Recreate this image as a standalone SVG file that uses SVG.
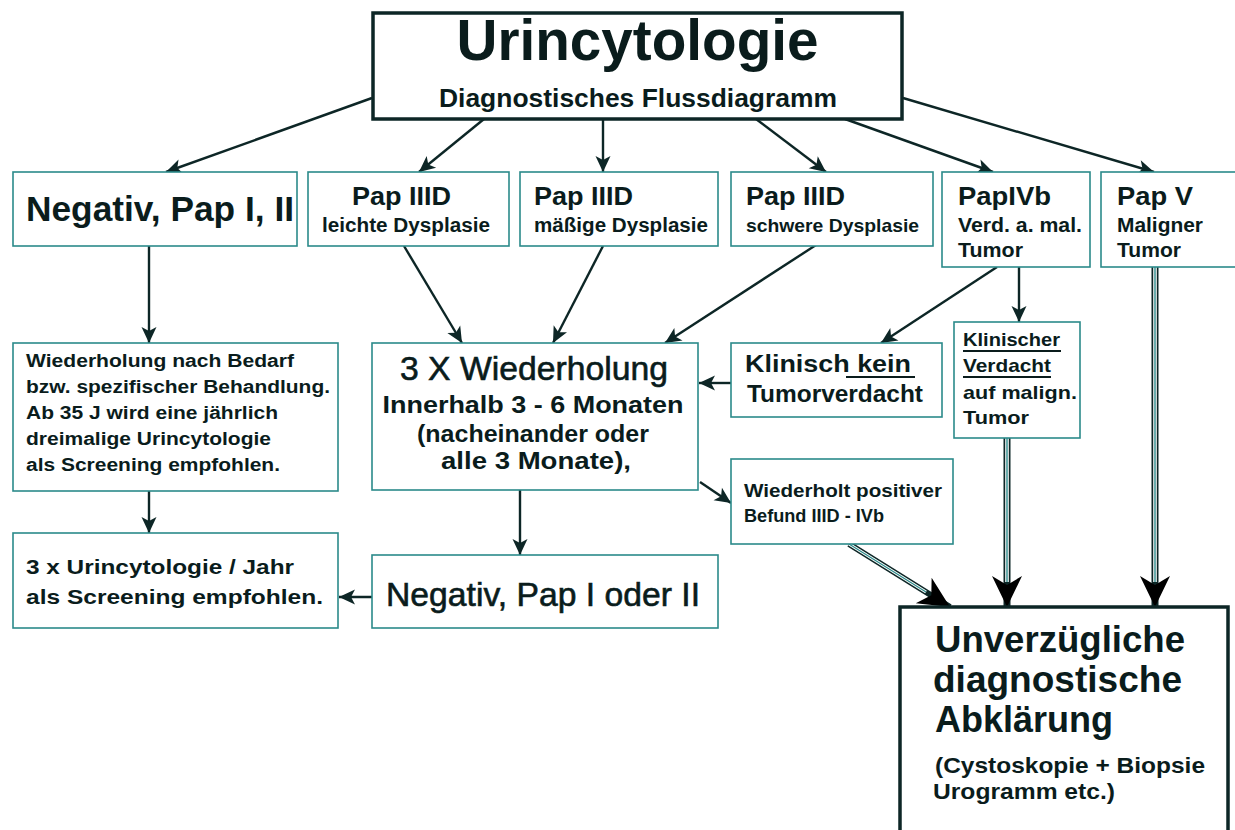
<svg xmlns="http://www.w3.org/2000/svg" width="1235" height="830" viewBox="0 0 1235 830">
<style>
.bx{fill:#fff;stroke:#2b8a8a;stroke-width:1.6}
.bxt{fill:#fff;stroke:#0d2626;stroke-width:3.5}
text{font-family:"Liberation Sans",Arial,sans-serif;fill:#0a1c1c;font-weight:bold}
.rg{font-weight:normal;stroke:#0a1c1c;stroke-width:0.6}
.ln{fill:none;stroke:#0d2626;stroke-width:2.4}
.dbl{fill:none;stroke:#0d2626;stroke-width:7}
.dblw{fill:none;stroke:#fff;stroke-width:3.6}
.dblt{fill:none;stroke:#2b8a8a;stroke-width:1.4}
.ul{stroke:#0a1c1c;stroke-width:2}
</style>
<defs>
<marker id="a" markerUnits="userSpaceOnUse" markerWidth="17" markerHeight="15" refX="16" refY="7.5" orient="auto" overflow="visible">
<path d="M0,0 L16,7.5 L0,15 L4,7.5 z" fill="#0d2626"/>
</marker>
<marker id="A" markerUnits="userSpaceOnUse" markerWidth="32" markerHeight="30" refX="31" refY="15" orient="auto" overflow="visible">
<path d="M0,0 L31,15 L0,30 L9,15 z" fill="#000"/>
</marker>
</defs>
<g id="connectors">
<path class="ln" marker-end="url(#a)" d="M372,98 L166,172"/>
<path class="ln" marker-end="url(#a)" d="M484,119 L419,172"/>
<path class="ln" marker-end="url(#a)" d="M603,119 L603,172"/>
<path class="ln" marker-end="url(#a)" d="M756,119 L826,172"/>
<path class="ln" marker-end="url(#a)" d="M845,119 L993,172"/>
<path class="ln" marker-end="url(#a)" d="M903,98 L1154,172"/>
<path class="ln" marker-end="url(#a)" d="M149,246 L149,343"/>
<path class="ln" marker-end="url(#a)" d="M404,246 L462,343"/>
<path class="ln" marker-end="url(#a)" d="M603,246 L553,343"/>
<path class="ln" marker-end="url(#a)" d="M816,245 L665,343"/>
<path class="ln" marker-end="url(#a)" d="M997,267 L881,343"/>
<path class="ln" marker-end="url(#a)" d="M1019,267 L1019,322"/>
<path class="ln" marker-end="url(#a)" d="M731,383 L699,383"/>
<path class="ln" marker-end="url(#a)" d="M700,482 L731,503"/>
<path class="ln" marker-end="url(#a)" d="M520,490 L520,555"/>
<path class="ln" marker-end="url(#a)" d="M149,491 L149,533"/>
<path class="ln" marker-end="url(#a)" d="M372,597 L339,597"/>
<path class="dbl" marker-end="url(#A)" d="M1155,267 L1155,607"/>
<path class="dblw" d="M1155,267 L1155,582"/>
<path class="dblt" d="M1155,267 L1155,582"/>
<path class="dbl" marker-end="url(#A)" d="M1007,438 L1007,607"/>
<path class="dblw" d="M1007,438 L1007,582"/>
<path class="dblt" d="M1007,438 L1007,582"/>
<path class="dbl" style="stroke-width:6" marker-end="url(#A)" d="M849,544 L950,607"/>
<path class="dblw" style="stroke-width:3" d="M849,544 L926,592"/>
<path class="dblt" style="stroke-width:1.2" d="M849,544 L926,592"/>
</g>
<g id="title">
<rect class="bxt" x="373" y="13" width="529" height="106"/>
<text x="637.5" y="60" font-size="57" text-anchor="middle" textLength="362" lengthAdjust="spacingAndGlyphs">Urincytologie</text>
<text x="638" y="107" font-size="25" text-anchor="middle" textLength="398" lengthAdjust="spacingAndGlyphs">Diagnostisches Flussdiagramm</text>
</g>
<g id="neg1">
<rect class="bx" x="13" y="172" width="284" height="74"/>
<text x="26" y="221" font-size="35" textLength="268" lengthAdjust="spacingAndGlyphs">Negativ, Pap I, II</text>
</g>
<g id="pap3a">
<rect class="bx" x="308" y="172" width="201" height="74"/>
<text x="352" y="205" font-size="25" textLength="99" lengthAdjust="spacingAndGlyphs">Pap IIID</text>
<text x="322" y="232" font-size="20" textLength="168" lengthAdjust="spacingAndGlyphs">leichte Dysplasie</text>
</g>
<g id="pap3b">
<rect class="bx" x="520" y="172" width="198" height="74"/>
<text x="534" y="205" font-size="25" textLength="99" lengthAdjust="spacingAndGlyphs">Pap IIID</text>
<text x="534" y="232" font-size="20" textLength="174" lengthAdjust="spacingAndGlyphs">mäßige Dysplasie</text>
</g>
<g id="pap3c">
<rect class="bx" x="731" y="172" width="202" height="74"/>
<text x="746" y="205" font-size="25" textLength="99" lengthAdjust="spacingAndGlyphs">Pap IIID</text>
<text x="746" y="232" font-size="19" textLength="173" lengthAdjust="spacingAndGlyphs">schwere Dysplasie</text>
</g>
<g id="pap4">
<rect class="bx" x="942" y="172" width="148" height="95"/>
<text x="958" y="205" font-size="25" textLength="93" lengthAdjust="spacingAndGlyphs">PapIVb</text>
<text x="958" y="232" font-size="20" textLength="124" lengthAdjust="spacingAndGlyphs">Verd. a. mal.</text>
<text x="958" y="257" font-size="20" textLength="65" lengthAdjust="spacingAndGlyphs">Tumor</text>
</g>
<g id="pap5">
<rect class="bx" x="1101" y="172" width="145" height="95"/>
<text x="1117" y="205" font-size="25" textLength="76" lengthAdjust="spacingAndGlyphs">Pap V</text>
<text x="1117" y="232" font-size="20" textLength="86" lengthAdjust="spacingAndGlyphs">Maligner</text>
<text x="1117" y="257" font-size="20" textLength="64" lengthAdjust="spacingAndGlyphs">Tumor</text>
</g>
<g id="wnb">
<rect class="bx" x="13" y="343" width="325" height="148"/>
<text x="26" y="367" font-size="17.5" textLength="268" lengthAdjust="spacingAndGlyphs">Wiederholung nach Bedarf</text>
<text x="26" y="393" font-size="17.5" textLength="304" lengthAdjust="spacingAndGlyphs">bzw. spezifischer Behandlung.</text>
<text x="26" y="419" font-size="17.5" textLength="252" lengthAdjust="spacingAndGlyphs">Ab 35 J wird eine jährlich</text>
<text x="26" y="445" font-size="17.5" textLength="245" lengthAdjust="spacingAndGlyphs">dreimalige Urincytologie</text>
<text x="26" y="471" font-size="17.5" textLength="254" lengthAdjust="spacingAndGlyphs">als Screening empfohlen.</text>
</g>
<g id="w3x">
<rect class="bx" x="372" y="343" width="326" height="147"/>
<text class="rg" x="534" y="380" font-size="33" text-anchor="middle" textLength="268" lengthAdjust="spacingAndGlyphs">3 X Wiederholung</text>
<text x="533" y="413" font-size="24" text-anchor="middle" textLength="301" lengthAdjust="spacingAndGlyphs">Innerhalb 3 - 6 Monaten</text>
<text x="533" y="442" font-size="24" text-anchor="middle" textLength="232" lengthAdjust="spacingAndGlyphs">(nacheinander oder</text>
<text x="536" y="469" font-size="24" text-anchor="middle" textLength="190" lengthAdjust="spacingAndGlyphs">alle 3 Monate),</text>
</g>
<g id="kkt">
<rect class="bx" x="731" y="343" width="211" height="74"/>
<text x="745" y="372" font-size="23" textLength="166" lengthAdjust="spacingAndGlyphs">Klinisch kein</text>
<line class="ul" x1="846" y1="377" x2="915" y2="377"/>
<text x="747" y="402" font-size="23" textLength="176" lengthAdjust="spacingAndGlyphs">Tumorverdacht</text>
</g>
<g id="kvd">
<rect class="bx" x="954" y="322" width="126" height="116"/>
<text x="963" y="346" font-size="19" textLength="97" lengthAdjust="spacingAndGlyphs">Klinischer</text>
<line class="ul" x1="963" y1="351" x2="1061" y2="351"/>
<text x="963" y="372" font-size="19" textLength="88" lengthAdjust="spacingAndGlyphs">Verdacht</text>
<line class="ul" x1="963" y1="377" x2="1051" y2="377"/>
<text x="963" y="399" font-size="19" textLength="114" lengthAdjust="spacingAndGlyphs">auf malign.</text>
<text x="963" y="424" font-size="19" textLength="66" lengthAdjust="spacingAndGlyphs">Tumor</text>
</g>
<g id="wpb">
<rect class="bx" x="731" y="459" width="222" height="85"/>
<text x="744" y="497" font-size="17.5" textLength="198" lengthAdjust="spacingAndGlyphs">Wiederholt positiver</text>
<text x="744" y="522" font-size="17.5" textLength="140" lengthAdjust="spacingAndGlyphs">Befund IIID - IVb</text>
</g>
<g id="urj">
<rect class="bx" x="13" y="533" width="325" height="95"/>
<text x="26" y="574" font-size="21" textLength="268" lengthAdjust="spacingAndGlyphs">3 x Urincytologie / Jahr</text>
<text x="26" y="604" font-size="21" textLength="297" lengthAdjust="spacingAndGlyphs">als Screening empfohlen.</text>
</g>
<g id="npo">
<rect class="bx" x="372" y="555" width="346" height="73"/>
<text class="rg" x="386" y="606" font-size="33" textLength="314" lengthAdjust="spacingAndGlyphs">Negativ, Pap I oder II</text>
</g>
<g id="unv">
<rect class="bxt" x="900" y="607" width="328" height="240"/>
<text x="935" y="652" font-size="36" textLength="250" lengthAdjust="spacingAndGlyphs">Unverzügliche</text>
<text x="933" y="692" font-size="36" textLength="249" lengthAdjust="spacingAndGlyphs">diagnostische</text>
<text x="935" y="732" font-size="36" textLength="178" lengthAdjust="spacingAndGlyphs">Abklärung</text>
<text x="935" y="773" font-size="22" textLength="270" lengthAdjust="spacingAndGlyphs">(Cystoskopie + Biopsie</text>
<text x="933" y="799" font-size="22" textLength="182" lengthAdjust="spacingAndGlyphs">Urogramm etc.)</text>
</g>
</svg>
